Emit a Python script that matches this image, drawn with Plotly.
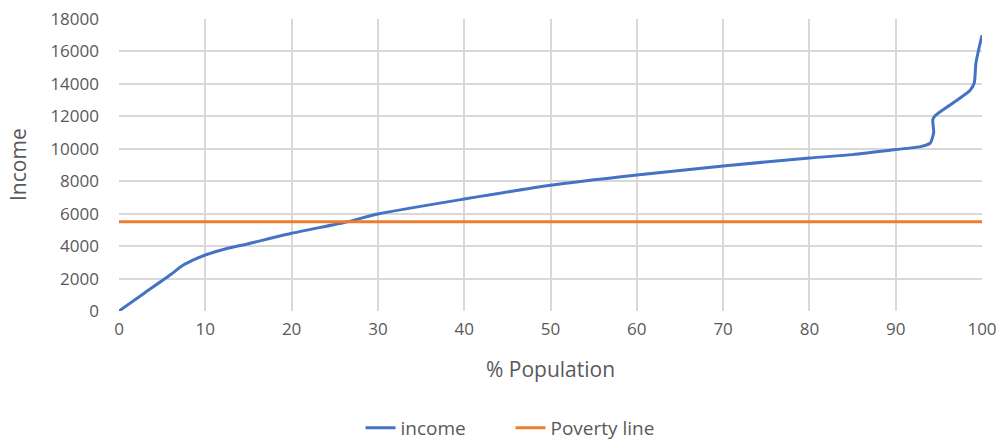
import plotly.graph_objects as go

population = [0, 3, 6, 7.2, 8.5, 10, 12.5, 15, 20, 26.5, 30, 40, 50, 60, 70, 80, 85, 90, 93, 94.0, 94.4, 94.3, 94.6, 96.3, 98.6, 99.1, 99.3, 100]
income = [0, 1130, 2250, 2750, 3120, 3450, 3850, 4150, 4790, 5500, 5980, 6900, 7750, 8380, 8940, 9430, 9640, 9950, 10150, 10350, 11000, 11800, 12050, 12700, 13600, 14050, 15300, 17000]
poverty_x = [0, 100]
poverty_y = [5500, 5500]

x_ticks = [0, 10, 20, 30, 40, 50, 60, 70, 80, 90, 100]
y_ticks = [0, 2000, 4000, 6000, 8000, 10000, 12000, 14000, 16000, 18000]
y_tick_labels = [str(v) for v in y_ticks]
x_tick_labels = [str(v) for v in x_ticks]

font_family = "Open Sans, Liberation Sans, sans-serif"
grey = "#595959"

W, H = 1001, 440
L, R, T, B = 119, 19, 19, 129
plot_w = W - L - R
plot_h = H - T - B
plot_bottom = H - B

fig = go.Figure()
fig.add_trace(go.Scatter(x=population, y=income, mode="lines", name="income",
                         line=dict(color="#4472C4", width=3, shape="spline", smoothing=0.6)))
fig.add_trace(go.Scatter(x=poverty_x, y=poverty_y, mode="lines", name="Poverty line",
                         line=dict(color="#ED7D31", width=3)))

fig.update_layout(
    width=W, height=H,
    margin=dict(l=L, r=R, t=T, b=B, autoexpand=False),
    paper_bgcolor="white", plot_bgcolor="white",
    font=dict(family=font_family, color=grey, size=17),
    showlegend=True,
    legend=dict(orientation="h", x=0.5 - 40 / plot_w, xanchor="center", y=-0.40, yanchor="middle",
                font=dict(size=19, color=grey), entrywidth=105),
    xaxis=dict(range=[0, 100], tickvals=x_ticks, ticktext=x_tick_labels, showgrid=True,
               gridcolor="#d9d9d9", gridwidth=1.5, zeroline=False, showline=False,
               ticks="", ticklabelstandoff=6, automargin=False),
    yaxis=dict(range=[0, 18000], tickvals=y_ticks, ticktext=y_tick_labels, showgrid=True,
               gridcolor="#d9d9d9", gridwidth=1.5, zeroline=False, showline=False,
               ticks="", ticklabelstandoff=19, automargin=False),
    annotations=[
        dict(text="% Population", xref="paper", yref="paper", x=0.5, y=(plot_bottom - 369) / plot_h,
             xanchor="center", yanchor="middle", showarrow=False,
             font=dict(size=21, color=grey)),
        dict(text="Income", xref="paper", yref="paper", x=(18 - L) / plot_w, y=(plot_bottom - 165) / plot_h,
             xanchor="center", yanchor="middle", showarrow=False, textangle=-90,
             font=dict(size=21, color=grey)),
    ],
)

fig.write_html("out.html", config={"displayModeBar": False},
               post_script="document.body.style.margin='0';document.body.style.overflow='hidden';")
